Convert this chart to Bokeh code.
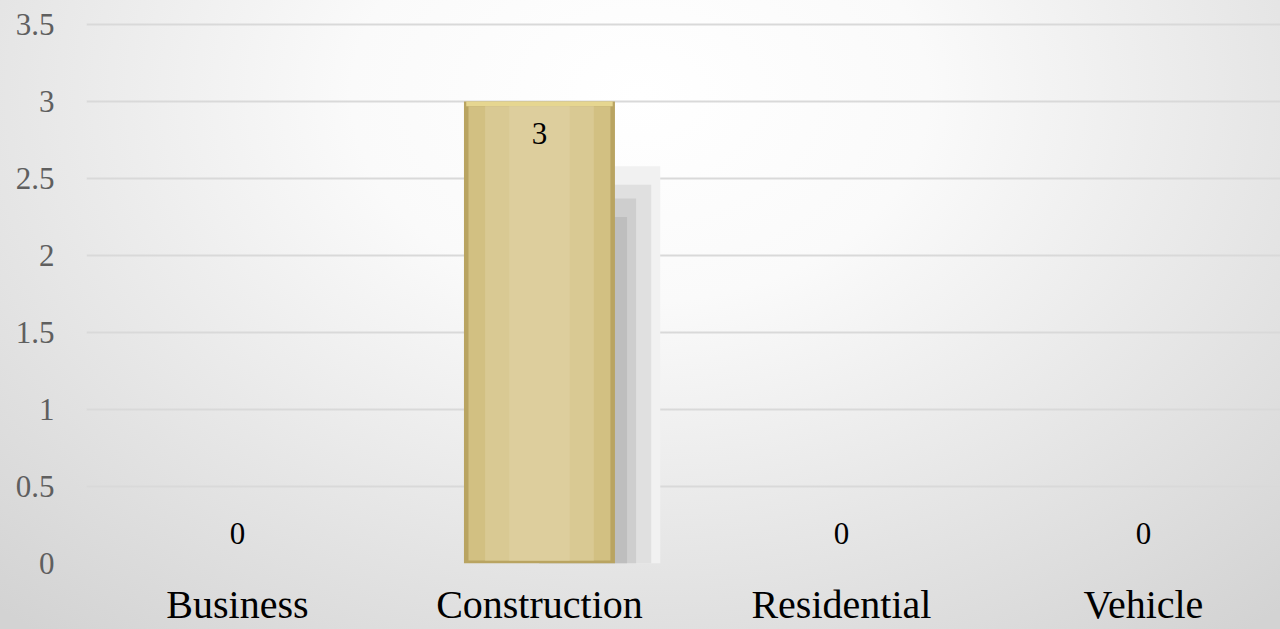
from bokeh.plotting import figure
from bokeh.models import ColumnDataSource, Range1d, FixedTicker
from bokeh.core.properties import value
from bokeh.embed import file_html
from bokeh.resources import INLINE

categories = ["Business", "Construction", "Residential", "Vehicle"]
counts = [0, 3, 0, 0]
y_ticks = [0, 0.5, 1, 1.5, 2, 2.5, 3, 3.5]
y_tick_labels = ["0", "0.5", "1", "1.5", "2", "2.5", "3", "3.5"]

FONT = "Liberation Serif"

xs = list(range(len(categories)))
src = ColumnDataSource(dict(
    x=xs,
    top=counts,
    label=[str(v) for v in counts],
    inner_top=[max(v - 0.03, 0) for v in counts],
    inner_bottom=[min(0.02, max(v - 0.03, 0)) for v in counts],
    yoff=[21 if v > 0 else -20 for v in counts],
    base=["top" if v > 0 else "bottom" for v in counts],
))

p = figure(width=1280, height=629, output_backend="svg", toolbar_location=None,
           x_range=Range1d(-0.5, 3.454), y_range=Range1d(0, 3.656),
           min_border_left=86, min_border_right=0, min_border_top=0, min_border_bottom=66)
p.styles = {"background-image": "radial-gradient(ellipse 75% 110% at 50% 15%, #ffffff 0%, #fafafa 30%, #d3d3d3 100%)"}
p.background_fill_alpha = 0
p.border_fill_alpha = 0
p.outline_line_color = None

# shadow layers to the right of the bar
shadow_layers = [(0.40, 0.86, "#f1f1f1"), (0.37, 0.82, "#e0e0e0"), (0.32, 0.79, "#cecece"), (0.29, 0.75, "#bebebe")]
for dx, f, col in shadow_layers:
    sd = ColumnDataSource(dict(left=xs, right=[x + dx for x in xs], top=[v * f for v in counts], bottom=[0 for _ in counts]))
    p.quad(left="left", right="right", top="top", bottom="bottom", source=sd, fill_color=col, line_color=None)

# bar with bevel look
p.vbar(x="x", top="top", width=0.5, source=src, fill_color="#b9a461", line_color=None)
p.vbar(x="x", top="top", bottom="inner_top", width=0.485, source=src, fill_color="#e6d690", line_color=None)
p.vbar(x="x", top="inner_top", bottom="inner_bottom", width=0.47, source=src, fill_color="#d2c082", line_color=None)
p.vbar(x="x", top="inner_top", bottom="inner_bottom", width=0.36, source=src, fill_color="#d9c993", line_color=None)
p.vbar(x="x", top="inner_top", bottom="inner_bottom", width=0.2, source=src, fill_color="#ddce9d", line_color=None)

p.text(x="x", y="top", text="label", source=src, text_align="center", text_baseline="base",
       y_offset="yoff", text_font=value(FONT), text_font_size="31px", text_color="#000000")

p.xaxis.ticker = FixedTicker(ticks=xs)
p.xaxis.major_label_overrides = {i: c for i, c in enumerate(categories)}
p.xaxis.major_label_text_font = FONT
p.xaxis.major_label_text_font_size = "40px"
p.xaxis.major_label_text_color = "#000000"
p.xaxis.major_label_standoff = 12
p.xaxis.axis_line_color = None
p.xaxis.major_tick_line_color = None
p.xaxis.minor_tick_line_color = None

p.yaxis.ticker = FixedTicker(ticks=y_ticks)
p.yaxis.major_label_overrides = {t: l for t, l in zip(y_ticks, y_tick_labels)}
p.yaxis.major_label_text_font = FONT
p.yaxis.major_label_text_font_size = "31px"
p.yaxis.major_label_text_color = "#5f5f5f"
p.yaxis.major_label_standoff = 26
p.yaxis.axis_line_color = None
p.yaxis.major_tick_line_color = None
p.yaxis.minor_tick_line_color = None

p.xgrid.grid_line_color = None
p.ygrid.grid_line_color = "#d9d9d9"
p.ygrid.grid_line_width = 2

open("out.html", "w").write(file_html(p, INLINE))
